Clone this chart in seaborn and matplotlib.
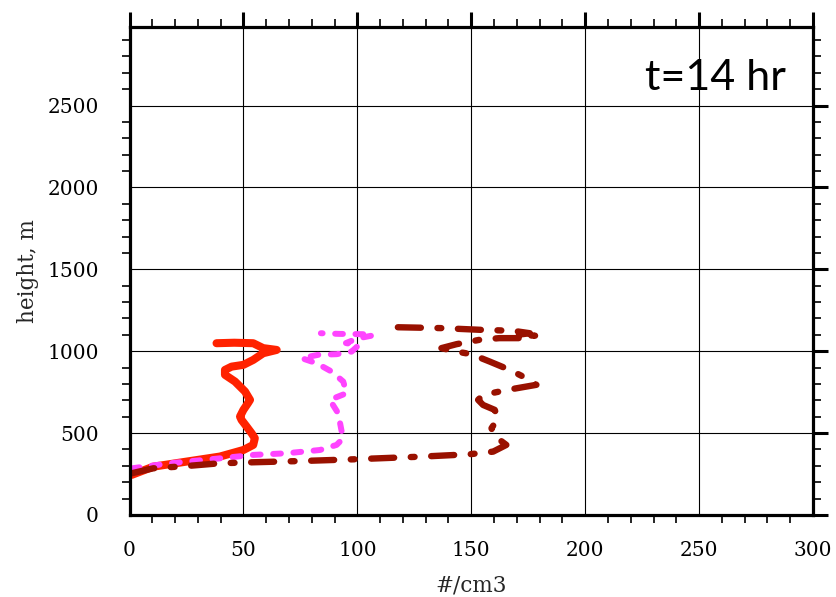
import matplotlib
matplotlib.use("Agg")
import matplotlib.pyplot as plt
import seaborn as sns
import pandas as pd
from matplotlib.ticker import MultipleLocator

# ---- data ----
red_x = [1, 10.4, 25, 39.7, 50, 54.3, 55, 53.6, 51.4, 49.2, 48.5, 50, 52, 52.9, 50.7,
         46.3, 41.9, 41.9, 44.8, 50, 54.3, 58.7, 64.6, 58.7, 54.3, 46, 38.2]
red_y = [245, 295, 326, 357, 397, 428, 469, 499, 540, 580, 601, 642, 683, 703, 754,
         815, 856, 886, 906, 917, 947, 988, 1008, 1019, 1049, 1052, 1049]

mag_x = [1, 17.8, 39.7, 54.3, 69, 83.6, 90.9, 93.8, 93, 91.6, 87.9, 95.3, 93.8, 88.7,
         82.1, 75.5, 82.8, 90.9, 97.5, 100.4, 95, 100, 107, 103, 92, 84]
mag_y = [285, 316, 346, 367, 377, 397, 428, 469, 519, 621, 703, 744, 815, 876,
         927, 958, 978, 982, 998, 1035, 1050, 1078, 1097, 1104, 1106, 1110]

dred_x = [1, 10.4, 25, 39.7, 54.3, 76.2, 98.2, 127.4, 149.3, 159.6, 165.4, 159.6, 158.9,
          161.8, 160.3, 155.2, 153, 155.2, 161, 168.3, 178.6, 174.2, 166.9, 158.1, 150,
          143.5, 136.9, 143.5, 153.7, 162.3, 172.7, 178, 170, 175.7, 168.3, 153.7, 137.6, 116]
dred_y = [255, 285, 299, 316, 322, 330, 340, 356, 371, 387, 428, 489, 530,
          591, 642, 672, 703, 733, 750, 770, 795, 835, 886, 937, 982,
          998, 1019, 1043, 1070, 1080, 1080, 1095, 1100, 1110, 1125, 1131, 1141, 1147]

xticks = [0, 50, 100, 150, 200, 250, 300]
yticks = [0, 500, 1000, 1500, 2000, 2500]
title_text = "t=14 hr"
xlabel = "#/cm3"
ylabel = "height, m"

sns.set_style("white")
plt.rcParams['font.family'] = ['DejaVu Serif']

fig = plt.figure(figsize=(8.37, 5.97), dpi=100)
ax = fig.add_axes([129.5 / 837, 1 - 515 / 597, (813 - 129.5) / 837, (515 - 27) / 597])

series = [
    (red_x, red_y, "#FF2200", 5.8, "-"),
    (mag_x, mag_y, "#FF44FF", 4.3, (0, (1.3, 2.1))),
    (dred_x, dred_y, "#991100", 4.6, (0, (3.6, 2.6, 0.6, 2.6))),
]
for xs, ys, col, lw, ls in series:
    df = pd.DataFrame({"x": xs, "y": ys})
    sns.lineplot(data=df, x="x", y="y", sort=False, estimator=None, ax=ax,
                 color=col, linewidth=lw)
    ln = ax.lines[-1]
    ln.set_linestyle(ls)
    ln.set_dash_capstyle("round")
    ln.set_solid_capstyle("round")
    ln.set_solid_joinstyle("round")
    ln.set_dash_joinstyle("round")

ax.set_xlim(0, 300)
ax.set_ylim(0, 2980)
ax.set_xticks(xticks)
ax.set_yticks(yticks)
ax.xaxis.set_minor_locator(MultipleLocator(10))
ax.yaxis.set_minor_locator(MultipleLocator(100))
ax.grid(True, which="major", color="black", linewidth=0.8)
ax.set_axisbelow(True)

for s in ax.spines.values():
    s.set_color("black")
    s.set_linewidth(2.3)

ax.tick_params(which="major", direction="out", length=11, width=2.2, color="black",
               top=True, right=True, labelsize=14.5, labelcolor="black")
ax.tick_params(axis="x", which="major", pad=8)
ax.tick_params(axis="y", which="major", pad=11)
ax.tick_params(which="minor", direction="out", length=6, width=1.2, color="black",
               top=True, right=True, bottom=True, left=True)

ax.set_xlabel(xlabel, fontsize=15.5)
ax.set_ylabel(ylabel, fontsize=15.5)
ax.xaxis.label.set_verticalalignment("center")
ax.yaxis.label.set_verticalalignment("center")
ax.xaxis.set_label_coords(0.5, (515 - 586) / 488)
ax.yaxis.set_label_coords((28 - 129.5) / 683.5, 0.5)

ax.text(0.96, 0.895, title_text, transform=ax.transAxes, ha="right", va="center",
        fontsize=31, family="Lato", color="black")

fig.savefig("out.png", dpi=100)
